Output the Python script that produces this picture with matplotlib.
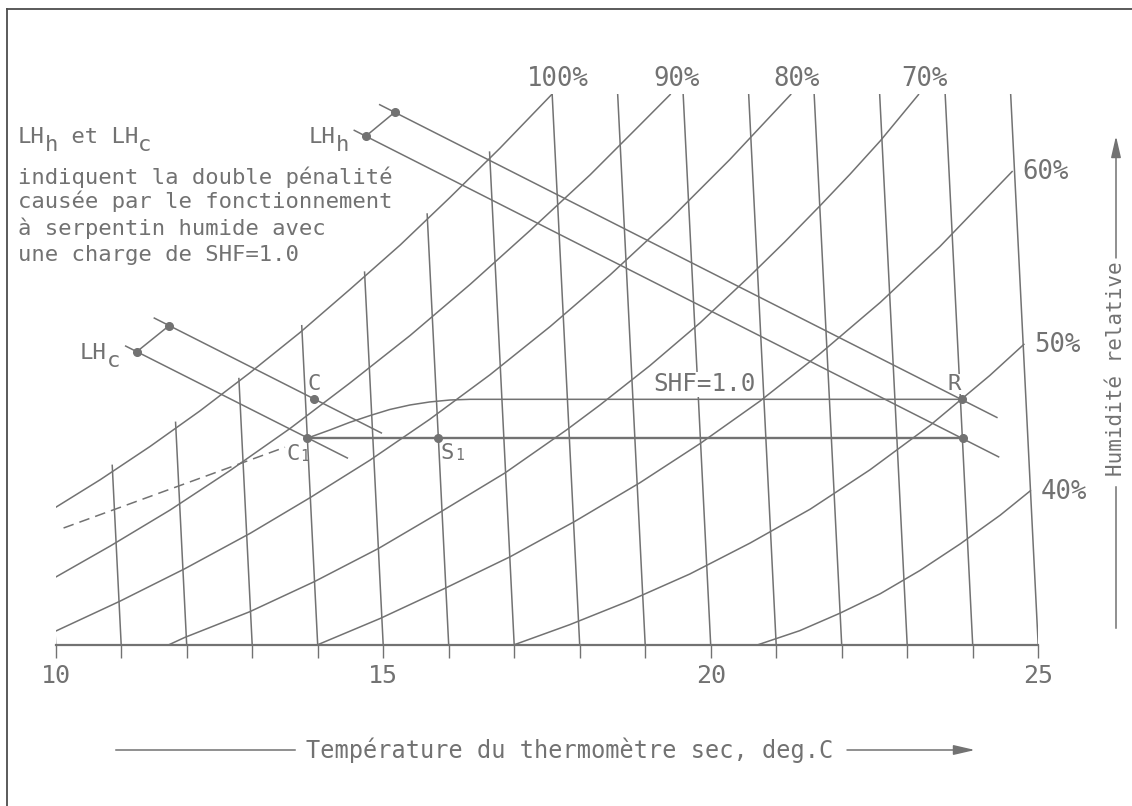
import matplotlib

matplotlib.use("Agg")
import matplotlib.pyplot as plt
from matplotlib.lines import Line2D

plt.rcParams["font.family"] = ["DejaVu Sans Mono", "DejaVu Sans"]

GRAY = "#727272"
FRAME = "#4d4d4d"
W, H = 1132, 806

# dry-bulb grid, deg C, and the humidity ratio (g/kg) where each line stops
dry_bulb = list(range(10, 26))
dry_bulb_top = [7.84, 8.39, 8.96, 9.54, 10.24, 10.95, 11.72, 12.54,
                13.3, 13.3, 13.3, 13.3, 13.3, 13.3, 13.3, 13.3]
tick_text = ["10", "", "", "", "", "15", "", "", "", "", "20", "", "", "", "", "25"]
W_MIN, W_MAX = 6.0, 13.3
LEAN = 0.0576  # dry-bulb lines lean left, deg C per g/kg

# relative humidity curves (dry bulb deg C, humidity ratio g/kg)
rh100_t = [9.90, 10.68, 11.44, 12.20, 12.97, 13.73, 14.49, 15.26, 16.02, 16.78, 17.58]
rh100_w = [7.77, 8.19, 8.63, 9.10, 9.61, 10.14, 10.71, 11.30, 11.93, 12.58, 13.30]
rh90_t = [9.96, 10.83, 11.75, 12.66, 13.58, 14.49, 15.41, 16.33, 17.24, 18.16, 18.92, 19.39]
rh90_w = [6.88, 7.31, 7.79, 8.31, 8.87, 9.47, 10.10, 10.78, 11.49, 12.23, 12.89, 13.30]
rh80_t = [9.99, 10.98, 11.97, 12.97, 13.88, 14.80, 15.71, 16.63, 17.55, 18.46,
          19.38, 20.29, 21.23]
rh80_w = [6.18, 6.58, 7.01, 7.48, 7.95, 8.45, 8.99, 9.58, 10.22, 10.90,
          11.64, 12.43, 13.30]
rh70_t = [11.72, 11.97, 12.96, 13.95, 14.93, 15.89, 16.86, 17.80, 18.31, 19.07,
          19.84, 20.60, 21.13, 21.67, 22.13, 22.59, 23.18]
rh70_w = [6.00, 6.10, 6.44, 6.84, 7.28, 7.77, 8.28, 8.85, 9.18, 9.70,
          10.27, 10.89, 11.34, 11.82, 12.24, 12.68, 13.30]
rh60_t = [13.99, 14.95, 15.94, 16.94, 17.93, 18.92, 19.84, 20.75, 21.67, 22.59, 23.50, 24.61]
rh60_w = [6.00, 6.35, 6.75, 7.17, 7.64, 8.15, 8.67, 9.23, 9.86, 10.54, 11.28, 12.28]
rh50_t = [16.99, 17.85, 18.77, 19.68, 20.60, 21.52, 22.43, 23.35, 24.26, 24.79]
rh50_w = [6.00, 6.27, 6.59, 6.94, 7.35, 7.80, 8.32, 8.91, 9.57, 9.99]
rh40_t = [20.71, 21.36, 21.97, 22.59, 23.20, 23.81, 24.42, 24.89]
rh40_w = [6.00, 6.19, 6.42, 6.68, 6.99, 7.34, 7.72, 8.05]

# process points
c_pt = (13.95, 9.26)
c1_pt = (13.84, 8.74)
s1_pt = (15.84, 8.74)
r_pt = (23.83, 9.255)
r_low_pt = (23.855, 8.74)

# coil line from C1 bending onto the SHF=1.0 line up to R
coil_t = [13.84, 14.19, 14.49, 14.80, 15.10, 15.41, 15.71, 16.02, 16.33, 23.83]
coil_w = [8.74, 8.85, 8.95, 9.04, 9.12, 9.18, 9.22, 9.246, 9.255, 9.255]
dash_t = [10.12, 13.50]
dash_w = [7.55, 8.62]

# latent heat lines (start, end) and their marked points
lhc_up_t, lhc_up_w = [11.495, 14.982], [10.336, 8.805]
lhc_lo_t, lhc_lo_w = [11.058, 14.463], [9.965, 8.473]
lhh_up_t, lhh_up_w = [14.936, 24.380], [13.163, 9.010]
lhh_lo_t, lhh_lo_w = [14.548, 24.406], [12.823, 8.488]
lhc_dots = [(11.238, 9.886), (11.730, 10.230)]
lhh_dots = [(14.737, 12.743), (15.174, 13.057)]

note_lines = [
    "indiquent la double pénalité",
    "causée par le fonctionnement",
    "à serpentin humide avec",
    "une charge de SHF=1.0",
]


def fpx(x, y):
    return x / W, 1 - y / H


fig = plt.figure(figsize=(W / 100, H / 100), dpi=100)
ax = fig.add_axes([55.7 / W, 1 - 645 / H, (1038.2 - 55.7) / W, (645 - 94) / H])
ax.set_xlim(10, 25)
ax.set_ylim(W_MIN, W_MAX)
for side in ["top", "right", "left"]:
    ax.spines[side].set_visible(False)
ax.spines["bottom"].set_color(GRAY)
ax.spines["bottom"].set_linewidth(1.6)
ax.set_yticks([])
ax.set_xticks(dry_bulb)
ax.set_xticklabels(tick_text)
ax.tick_params(axis="x", direction="out", length=9.4, width=1.0, color=GRAY,
               labelcolor=GRAY, labelsize=18, pad=4)

line_kw = dict(color=GRAY, lw=1.1, solid_capstyle="butt", solid_joinstyle="round")

for t, top in zip(dry_bulb, dry_bulb_top):
    ax.plot([t, t - LEAN * (top - W_MIN)], [W_MIN, top], zorder=1, **line_kw)

curves = [
    (rh100_t, rh100_w, "100%", "top"),
    (rh90_t, rh90_w, "90%", "top"),
    (rh80_t, rh80_w, "80%", "top"),
    (rh70_t, rh70_w, "70%", "top"),
    (rh60_t, rh60_w, "60%", "side"),
    (rh50_t, rh50_w, "50%", "side"),
    (rh40_t, rh40_w, "40%", "side"),
]
for ts, ws, lab, where in curves:
    ax.plot(ts, ws, zorder=1.5, **line_kw)
    if where == "top":
        ax.annotate(lab, (ts[-1], ws[-1]), xytext=(4, 11), textcoords="offset points",
                    ha="center", va="center", fontsize=18.5, color=GRAY,
                    annotation_clip=False)
    else:
        ax.annotate(lab, (ts[-1], ws[-1]), xytext=(7, -1), textcoords="offset points",
                    ha="left", va="center", fontsize=18.5, color=GRAY,
                    annotation_clip=False)

# process lines
ax.plot(coil_t, coil_w, zorder=4, **line_kw)
ax.plot([c1_pt[0], r_low_pt[0]], [c1_pt[1], r_low_pt[1]], color=GRAY, lw=1.7, zorder=4)
ax.plot(dash_t, dash_w, color=GRAY, lw=1.1, ls=(0, (7, 4)), zorder=4)

for ts, ws in [(lhc_up_t, lhc_up_w), (lhc_lo_t, lhc_lo_w),
               (lhh_up_t, lhh_up_w), (lhh_lo_t, lhh_lo_w)]:
    ax.plot(ts, ws, zorder=4, **line_kw)
for dots in [lhc_dots, lhh_dots]:
    ax.plot([d[0] for d in dots], [d[1] for d in dots], zorder=4, **line_kw)
    ax.plot([d[0] for d in dots], [d[1] for d in dots], "o", color=GRAY, ms=5.5, zorder=5)

pts = [c_pt, c1_pt, s1_pt, r_pt, r_low_pt]
ax.plot([p[0] for p in pts], [p[1] for p in pts], "o", color=GRAY, ms=5.5, zorder=5)

txt_kw = dict(color=GRAY, annotation_clip=False)

# point labels
ax.annotate("C", c_pt, xytext=(0, 11), textcoords="offset points", ha="center",
            va="center", fontsize=16, **txt_kw)
ax.annotate("R", r_pt, xytext=(-5.5, 11), textcoords="offset points", ha="center",
            va="center", fontsize=16, zorder=3,
            bbox=dict(facecolor="white", edgecolor="none", pad=0.3), **txt_kw)
for pt, letter, off in [(c1_pt, "C", (-10, -11.5)), (s1_pt, "S", (6.8, -11))]:
    big = ax.annotate(letter, pt, xytext=off, textcoords="offset points", ha="center",
                      va="center", fontsize=16, **txt_kw)
    ax.annotate("1", (1, 0), xycoords=big, xytext=(0.3, 0), textcoords="offset points",
                ha="left", va="bottom", fontsize=10.5, **txt_kw)

ax.annotate("SHF=1.0", (19.91, r_pt[1]), xytext=(0, 11), textcoords="offset points",
            ha="center", va="center", fontsize=17.5, zorder=3,
            bbox=dict(facecolor="white", edgecolor="none", pad=0.3), **txt_kw)

# LH labels next to the bracket of each pair of lines
for dot, sub in [(lhh_dots[0], "h"), (lhc_dots[0], "c")]:
    main = ax.annotate("LH", dot, xytext=(-41, -5), textcoords="offset points",
                       ha="left", va="baseline", fontsize=16, **txt_kw)
    ax.annotate(sub, (1, 0), xycoords=main, xytext=(0, -6), textcoords="offset points",
                ha="left", va="bottom", fontsize=16, **txt_kw)

# heading "LHh et LHc"
t1 = fig.text(*fpx(18, 143), "LH", fontsize=16, color=GRAY, va="baseline", ha="left")
t2 = ax.annotate("h", (1, 0), xycoords=t1, xytext=(0, -6), textcoords="offset points",
                 ha="left", va="bottom", fontsize=16, **txt_kw)
t3 = ax.annotate(" et LH", (1, 0), xycoords=t2, xytext=(0, 6), textcoords="offset points",
                 ha="left", va="bottom", fontsize=16, **txt_kw)
ax.annotate("c", (1, 0), xycoords=t3, xytext=(0, -6), textcoords="offset points",
            ha="left", va="bottom", fontsize=16, **txt_kw)

for line, base in zip(note_lines, [184, 208, 235, 261]):
    fig.text(*fpx(18, base), line, fontsize=16, color=GRAY, va="baseline", ha="left")

# axis titles with their arrows
arrow_kw = dict(arrowstyle="-|>,head_length=1.3,head_width=0.3", color=GRAY, lw=1.1,
                shrinkA=0, shrinkB=0, mutation_scale=10)
fig.text(*fpx(570, 750), "Température du thermomètre sec, deg.C", fontsize=17,
         color=GRAY, ha="center", va="center")
fig.add_artist(Line2D([116 / W, 294.5 / W], [1 - 750 / H] * 2, color=GRAY, lw=1.1))
ax.annotate("", xy=fpx(975, 750), xycoords="figure fraction", xytext=fpx(847, 750),
            textcoords="figure fraction", arrowprops=arrow_kw)

fig.text(*fpx(1116, 369), "Humidité relative", fontsize=15, color=GRAY, rotation=90,
         ha="center", va="center")
fig.add_artist(Line2D([1116 / W] * 2, [1 - 487 / H, 1 - 628 / H], color=GRAY, lw=1.1))
ax.annotate("", xy=fpx(1116, 136), xycoords="figure fraction", xytext=fpx(1116, 258),
            textcoords="figure fraction", arrowprops=arrow_kw)

# drawing frame (top and left edges)
fig.add_artist(Line2D([7 / W, 1], [1 - 9 / H] * 2, color=FRAME, lw=1.3))
fig.add_artist(Line2D([7 / W] * 2, [0, 1 - 9 / H], color=FRAME, lw=1.3))

fig.savefig("out.png", dpi=100)
plt.close(fig)
